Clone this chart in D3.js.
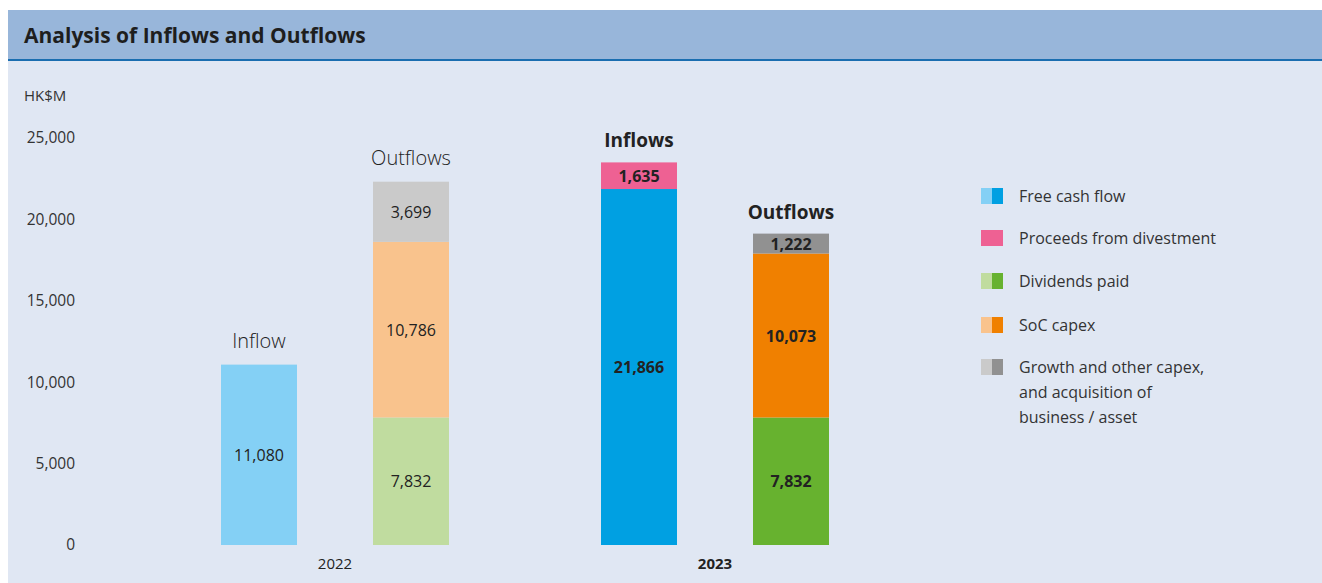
<!DOCTYPE html>
<html>
<head>
<meta charset="utf-8">
<script src="https://cdn.jsdelivr.net/npm/d3@7"></script>
<style>
  html, body { margin: 0; padding: 0; background: #ffffff; }
  svg { display: block; font-family: "Open Sans", "Noto Sans", sans-serif; }
</style>
</head>
<body>
<svg id="chart" width="1322" height="583"></svg>
<script>
// Cash flow analysis (HK$M)
const years = ["2022", "2023"];
const flows = ["Inflows", "Outflows"];
const yTicks = [0, 5000, 10000, 15000, 20000, 25000];

// Stacked segments per year / flow, bottom to top
const inflow2022 = [{ key: "fcf", value: 11080 }];
const outflow2022 = [
  { key: "div", value: 7832 },
  { key: "soc", value: 10786 },
  { key: "growth", value: 3699 }
];
const inflow2023 = [
  { key: "fcf", value: 21866 },
  { key: "proceeds", value: 1635 }
];
const outflow2023 = [
  { key: "div", value: 7832 },
  { key: "soc", value: 10073 },
  { key: "growth", value: 1222 }
];
const barTitles2022 = ["Inflow", "Outflows"];
const barTitles2023 = ["Inflows", "Outflows"];

const legendKeys = ["fcf", "proceeds", "div", "soc", "growth"];
const legendLabels = [
  ["Free cash flow"],
  ["Proceeds from divestment"],
  ["Dividends paid"],
  ["SoC capex"],
  ["Growth and other capex,", "and acquisition of", "business / asset"]
];

const lightColors = { fcf: "#84d0f5", proceeds: "#ee6193", div: "#c0dc9f", soc: "#f9c38d", growth: "#cacaca" };
const darkColors = { fcf: "#00a0e2", proceeds: "#ee6193", div: "#67b22f", soc: "#f08000", growth: "#919191" };

const svg = d3.select("#chart");

// Panel background and title bar
svg.append("rect").attr("x", 8).attr("y", 10).attr("width", 1314).attr("height", 573).attr("fill", "#e0e7f3");
svg.append("rect").attr("x", 8).attr("y", 10).attr("width", 1314).attr("height", 50).attr("fill", "#98b6da");
svg.append("rect").attr("x", 8).attr("y", 59).attr("width", 1314).attr("height", 2).attr("fill", "#1a6eb0");
svg.append("text").attr("x", 24).attr("y", 43)
  .attr("font-size", 21).attr("font-weight", 700).attr("fill", "#1e1e1e")
  .text("Analysis of Inflows and Outflows");

// Scales
const y = d3.scaleLinear().domain([0, 25000]).range([545, 138]);
const xYear = d3.scalePoint().domain(years).range([335, 715]);
const xFlow = d3.scaleBand().domain(flows).range([-114, 114]).paddingInner(0.5).paddingOuter(0);

// Y axis labels (no axis line)
const yAxis = d3.axisLeft(y).tickValues(yTicks).tickSize(0).tickPadding(0)
  .tickFormat(d3.format(","));
const gy = svg.append("g").attr("transform", "translate(75,0)").call(yAxis);
gy.select(".domain").remove();
gy.selectAll("text").attr("font-size", 15.5).attr("fill", "#333").attr("font-family", "\"Open Sans\", sans-serif");

svg.append("text").attr("x", 24).attr("y", 101).attr("font-size", 15).attr("fill", "#333").text("HK$M");

// Bars
const groups = [
  { year: "2022", bars: [inflow2022, outflow2022], titles: barTitles2022, colors: lightColors, bold: false },
  { year: "2023", bars: [inflow2023, outflow2023], titles: barTitles2023, colors: darkColors, bold: true }
];

groups.forEach(g => {
  const gx = xYear(g.year);
  g.bars.forEach((segs, i) => {
    const flow = flows[i];
    const x0 = gx + xFlow(flow);
    const w = xFlow.bandwidth();
    let acc = 0;
    segs.forEach(s => {
      const y0 = acc, y1 = acc + s.value;
      acc = y1;
      svg.append("rect")
        .attr("x", x0).attr("width", w)
        .attr("y", y(y1)).attr("height", y(y0) - y(y1))
        .attr("fill", g.colors[s.key]);
      svg.append("text")
        .attr("x", x0 + w / 2).attr("y", (y(y0) + y(y1)) / 2)
        .attr("text-anchor", "middle").attr("dominant-baseline", "central")
        .attr("font-size", 16).attr("font-weight", g.bold ? 700 : 400)
        .attr("fill", "#222")
        .text(d3.format(",")(s.value));
    });
    svg.append("text")
      .attr("x", x0 + w / 2).attr("y", y(acc) - (g.bold ? 15 : 17))
      .attr("text-anchor", "middle")
      .attr("font-size", g.bold ? 19 : 20).attr("font-weight", g.bold ? 700 : 300)
      .attr("fill", "#222")
      .text(g.titles[i]);
  });
  svg.append("text")
    .attr("x", gx).attr("y", 569)
    .attr("text-anchor", "middle")
    .attr("font-size", 15).attr("font-weight", g.bold ? 700 : 400)
    .attr("fill", "#222")
    .text(g.year);
});

// Legend
const legendY = [196, 238, 281, 325, 367];
legendKeys.forEach((k, i) => {
  const ly = legendY[i];
  if (lightColors[k] === darkColors[k]) {
    svg.append("rect").attr("x", 981).attr("y", ly - 8).attr("width", 22).attr("height", 16).attr("fill", darkColors[k]);
  } else {
    svg.append("rect").attr("x", 981).attr("y", ly - 8).attr("width", 11).attr("height", 16).attr("fill", lightColors[k]);
    svg.append("rect").attr("x", 992).attr("y", ly - 8).attr("width", 11).attr("height", 16).attr("fill", darkColors[k]);
  }
  const t = svg.append("text").attr("x", 1019).attr("y", ly + 6)
    .attr("font-size", 16).attr("fill", "#333");
  legendLabels[i].forEach((line, j) => {
    t.append("tspan").attr("x", 1019).attr("dy", j === 0 ? 0 : 25).text(line);
  });
});
</script>
</body>
</html>
